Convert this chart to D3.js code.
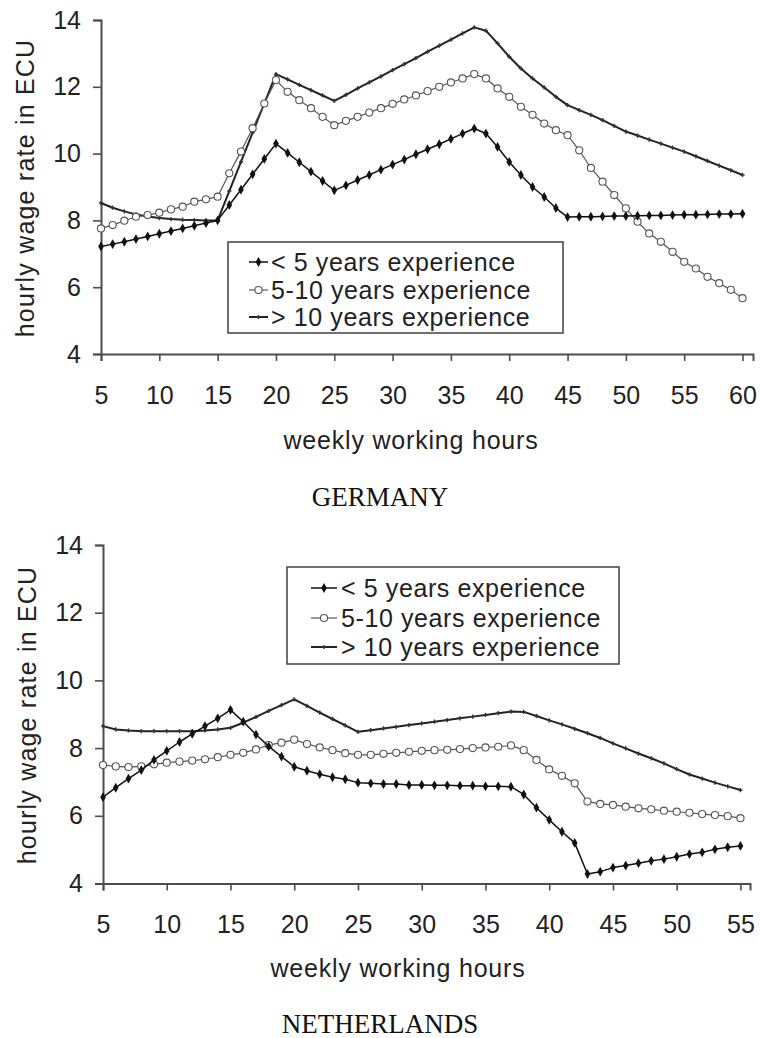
<!DOCTYPE html>
<html>
<head>
<meta charset="utf-8">
<script src="https://cdnjs.cloudflare.com/ajax/libs/d3/7.8.5/d3.min.js"></script>
<style>
  body { margin: 0; background: #fff; }
  svg { display: block; font-family: "Liberation Sans", Arial, sans-serif; }
</style>
</head>
<body>
<svg id="chart"></svg>
<script>
// ---- data ----
const seriesNames = ['< 5 years experience', '5-10 years experience', '> 10 years experience'];
const yTicks = [4, 6, 8, 10, 12, 14];

// Germany: one point per weekly hour, 5 .. 60
const hoursDE = [5, 6, 7, 8, 9, 10, 11, 12, 13, 14, 15, 16, 17, 18, 19, 20, 21, 22, 23, 24, 25, 26, 27, 28, 29, 30,
  31, 32, 33, 34, 35, 36, 37, 38, 39, 40, 41, 42, 43, 44, 45, 46, 47, 48, 49, 50, 51, 52, 53, 54, 55, 56, 57, 58, 59, 60];
const under5DE = [7.22, 7.29, 7.36, 7.44, 7.52, 7.6, 7.68, 7.76, 7.84, 7.92, 8.0,
  8.46, 8.92, 9.38, 9.84, 10.3,
  10.02, 9.74, 9.46, 9.18, 8.9,
  9.05, 9.21, 9.36, 9.52, 9.67, 9.82, 9.98, 10.13, 10.28, 10.44, 10.6, 10.75,
  10.6, 10.2, 9.75, 9.36, 9.0, 8.7, 8.37, 8.1,
  8.11, 8.11, 8.12, 8.13, 8.13, 8.14, 8.15, 8.15, 8.16, 8.17, 8.17, 8.18, 8.19, 8.19, 8.2];
const mid5to10DE = [7.76, 7.86, 7.99, 8.11, 8.16, 8.23, 8.33, 8.41, 8.56, 8.63, 8.71,
  9.41, 10.06, 10.76, 11.5, 12.2,
  11.85, 11.6, 11.36, 11.1, 10.85,
  10.98, 11.1, 11.23, 11.36, 11.49, 11.62, 11.74, 11.87, 12.0, 12.13, 12.25, 12.38,
  12.25, 11.95, 11.7, 11.4, 11.16, 10.9, 10.7, 10.55,
  10.1, 9.57, 9.16, 8.76, 8.36, 7.96, 7.61, 7.36, 7.06, 6.76, 6.56, 6.31, 6.12, 5.92, 5.67];
const over10DE = [8.52, 8.38, 8.27, 8.18, 8.12, 8.07, 8.04, 8.02, 8.01, 8.0, 8.0,
  8.88, 9.75, 10.63, 11.5, 12.38,
  12.22, 12.06, 11.9, 11.74, 11.58,
  11.76, 11.95, 12.13, 12.31, 12.5, 12.68, 12.86, 13.05, 13.23, 13.41, 13.6, 13.78,
  13.68, 13.3, 12.9, 12.55, 12.25, 11.98, 11.7, 11.45,
  11.3, 11.16, 11.0, 10.83, 10.66, 10.54, 10.42, 10.3, 10.18, 10.06, 9.92, 9.78, 9.64, 9.5, 9.36];
const xTicksDE = [5, 10, 15, 20, 25, 30, 35, 40, 45, 50, 55, 60];

// Netherlands: one point per weekly hour, 5 .. 55
const hoursNL = [5, 6, 7, 8, 9, 10, 11, 12, 13, 14, 15, 16, 17, 18, 19, 20, 21, 22, 23, 24, 25, 26, 27, 28, 29, 30,
  31, 32, 33, 34, 35, 36, 37, 38, 39, 40, 41, 42, 43, 44, 45, 46, 47, 48, 49, 50, 51, 52, 53, 54, 55];
const under5NL = [6.55, 6.83, 7.1, 7.35, 7.65, 7.92, 8.18, 8.42, 8.65, 8.88, 9.13,
  8.78, 8.4, 8.05, 7.75, 7.45,
  7.33, 7.23, 7.14, 7.08, 6.98,
  6.96, 6.94, 6.94, 6.91, 6.91, 6.9, 6.9, 6.89, 6.89, 6.87, 6.87, 6.86,
  6.63, 6.24, 5.88, 5.53, 5.2,
  4.28, 4.35, 4.47, 4.53, 4.6, 4.67, 4.72, 4.79, 4.87, 4.92, 5.01, 5.07, 5.11];
const mid5to10NL = [7.5, 7.46, 7.44, 7.46, 7.52, 7.57, 7.6, 7.63, 7.67, 7.73, 7.8, 7.86, 7.96, 8.09, 8.16, 8.25,
  8.12, 8.02, 7.94, 7.85, 7.8, 7.8, 7.83, 7.86, 7.89, 7.92, 7.94, 7.95, 7.97, 8.0, 8.02, 8.04, 8.08,
  7.94, 7.65, 7.37, 7.18, 6.96,
  6.42, 6.35, 6.32, 6.27, 6.22, 6.19, 6.15, 6.12, 6.09, 6.05, 6.02, 5.99, 5.93];
const over10NL = [8.65, 8.55, 8.52, 8.5, 8.5, 8.5, 8.5, 8.5, 8.52, 8.55, 8.6, 8.75, 8.92, 9.1, 9.27, 9.44,
  9.25, 9.05, 8.86, 8.67, 8.48,
  8.53, 8.58, 8.63, 8.68, 8.73, 8.78, 8.83, 8.88, 8.93, 8.98, 9.03, 9.08,
  9.07, 8.95, 8.82, 8.7, 8.57, 8.44, 8.3, 8.14, 7.99, 7.84, 7.7, 7.55, 7.38, 7.22, 7.1, 6.98, 6.87, 6.76];
const xTicksNL = [5, 10, 15, 20, 25, 30, 35, 40, 45, 50, 55];

// ---- drawing ----
const width = 761;
const height = 1038;
const ink = '#222';
const axisGrey = '#4d4d4d';

const svg = d3.select('#chart')
  .attr('width', width)
  .attr('height', height);

svg.append('rect').attr('width', width).attr('height', height).attr('fill', '#fff');

// marker styles for the three series
const styles = [
  { line: '#111', lw: 1.5, symbol: d3.symbolDiamond, size: 28, fill: '#111', stroke: 'none' },
  { line: '#555', lw: 1.2, symbol: d3.symbolCircle, size: 40, fill: '#fff', stroke: '#555' },
  { line: '#222', lw: 2, symbol: d3.symbolCross, size: 10, fill: '#333', stroke: 'none' }
];

function drawMarker(sel, st, cx, cy) {
  sel.append('path')
    .attr('d', d3.symbol().type(st.symbol).size(st.size)())
    .attr('transform', 'translate(' + cx + ',' + cy + ')')
    .attr('fill', st.fill)
    .attr('stroke', st.stroke)
    .attr('stroke-width', 1.1);
}

function panel(p) {
  const x = d3.scaleLinear().domain([5, p.xEnd]).range([p.left, p.right]);
  const y = d3.scaleLinear().domain([4, 14]).range([p.bottom, p.top]);
  const g = svg.append('g');

  // X - Axis
  const xAxis = g.append('g')
    .attr('transform', 'translate(0,' + p.bottom + ')')
    .call(d3.axisBottom(x).tickValues(p.xTicks).tickSizeOuter(0).tickSize(7).tickPadding(25));

  // Y - Axis
  const yAxis = g.append('g')
    .attr('transform', 'translate(' + p.left + ',0)')
    .call(d3.axisLeft(y).tickValues(yTicks).tickSizeOuter(0).tickSize(8).tickPadding(12));

  [xAxis, yAxis].forEach(a => {
    a.select('.domain').attr('stroke', axisGrey).attr('stroke-width', 2);
    a.selectAll('.tick line').attr('stroke', axisGrey).attr('stroke-width', 1.6);
    a.selectAll('.tick text')
      .attr('fill', ink)
      .style('font-size', '25px')
      .style('font-family', '"Liberation Sans", Arial, sans-serif');
  });

  g.append('text')
    .text('weekly working hours')
    .attr('x', p.xLabel[0])
    .attr('y', p.xLabel[1])
    .attr('dy', '0.35em')
    .style('text-anchor', 'middle')
    .style('font-size', '25px')
    .style('letter-spacing', '0.8px')
    .attr('fill', ink);

  g.append('text')
    .text('hourly wage rate in ECU')
    .attr('transform', 'translate(' + p.yLabel[0] + ',' + p.yLabel[1] + ') rotate(-90)')
    .attr('dy', '0.35em')
    .style('text-anchor', 'middle')
    .style('font-size', '25px')
    .style('letter-spacing', '1.2px')
    .attr('fill', ink);

  // series: draw the >10 line first so the marked series lie on top
  const line = d3.line().x(d => x(d[0])).y(d => y(d[1]));
  [2, 1, 0].forEach(i => {
    const st = styles[i];
    const pts = p.hours.map((h, j) => [h, p.series[i][j]]);
    g.append('path')
      .datum(pts)
      .attr('d', line)
      .attr('fill', 'none')
      .attr('stroke', st.line)
      .attr('stroke-width', st.lw)
      .attr('stroke-linejoin', 'round');
    const mg = g.append('g');
    pts.forEach(d => drawMarker(mg, st, x(d[0]), y(d[1])));
  });

  // legend
  const L = p.legend;
  const lg = g.append('g');
  lg.append('rect')
    .attr('x', L.x).attr('y', L.y)
    .attr('width', L.w).attr('height', L.h)
    .attr('fill', '#fff')
    .attr('stroke', axisGrey)
    .attr('stroke-width', 1.6);
  seriesNames.forEach((name, i) => {
    const st = styles[i];
    const cy = L.rows[i];
    lg.append('line')
      .attr('x1', L.sx0).attr('x2', L.sx1)
      .attr('y1', cy).attr('y2', cy)
      .attr('stroke', st.line)
      .attr('stroke-width', st.lw);
    drawMarker(lg, st, (L.sx0 + L.sx1) / 2, cy);
    lg.append('text')
      .text(name)
      .attr('x', L.tx)
      .attr('y', cy)
      .attr('dy', '0.35em')
      .style('font-size', '25px')
      .style('letter-spacing', '0.6px')
      .attr('fill', ink);
  });

  svg.append('text')
    .text(p.title)
    .attr('x', p.titlePos[0])
    .attr('y', p.titlePos[1])
    .style('text-anchor', 'middle')
    .style('font-family', '"Liberation Serif", "DejaVu Serif", serif')
    .style('font-size', '27px')
    .attr('fill', '#111');
}

panel({
  title: 'GERMANY', titlePos: [380, 506],
  hours: hoursDE, series: [under5DE, mid5to10DE, over10DE], xTicks: xTicksDE,
  xEnd: 60.9, left: 101, right: 753, top: 20, bottom: 354,
  xLabel: [411, 440], yLabel: [25, 188],
  legend: { x: 228, y: 242, w: 335, h: 91, rows: [262, 290, 317], sx0: 249, sx1: 268, tx: 271 }
});

panel({
  title: 'NETHERLANDS', titlePos: [380, 1033],
  hours: hoursNL, series: [under5NL, mid5to10NL, over10NL], xTicks: xTicksNL,
  xEnd: 55.75, left: 103, right: 750, top: 545, bottom: 883.5,
  xLabel: [398, 968], yLabel: [27, 715],
  legend: { x: 287, y: 567, w: 332, h: 97, rows: [588, 618, 647], sx0: 311, sx1: 337, tx: 341 }
});
</script>
</body>
</html>
